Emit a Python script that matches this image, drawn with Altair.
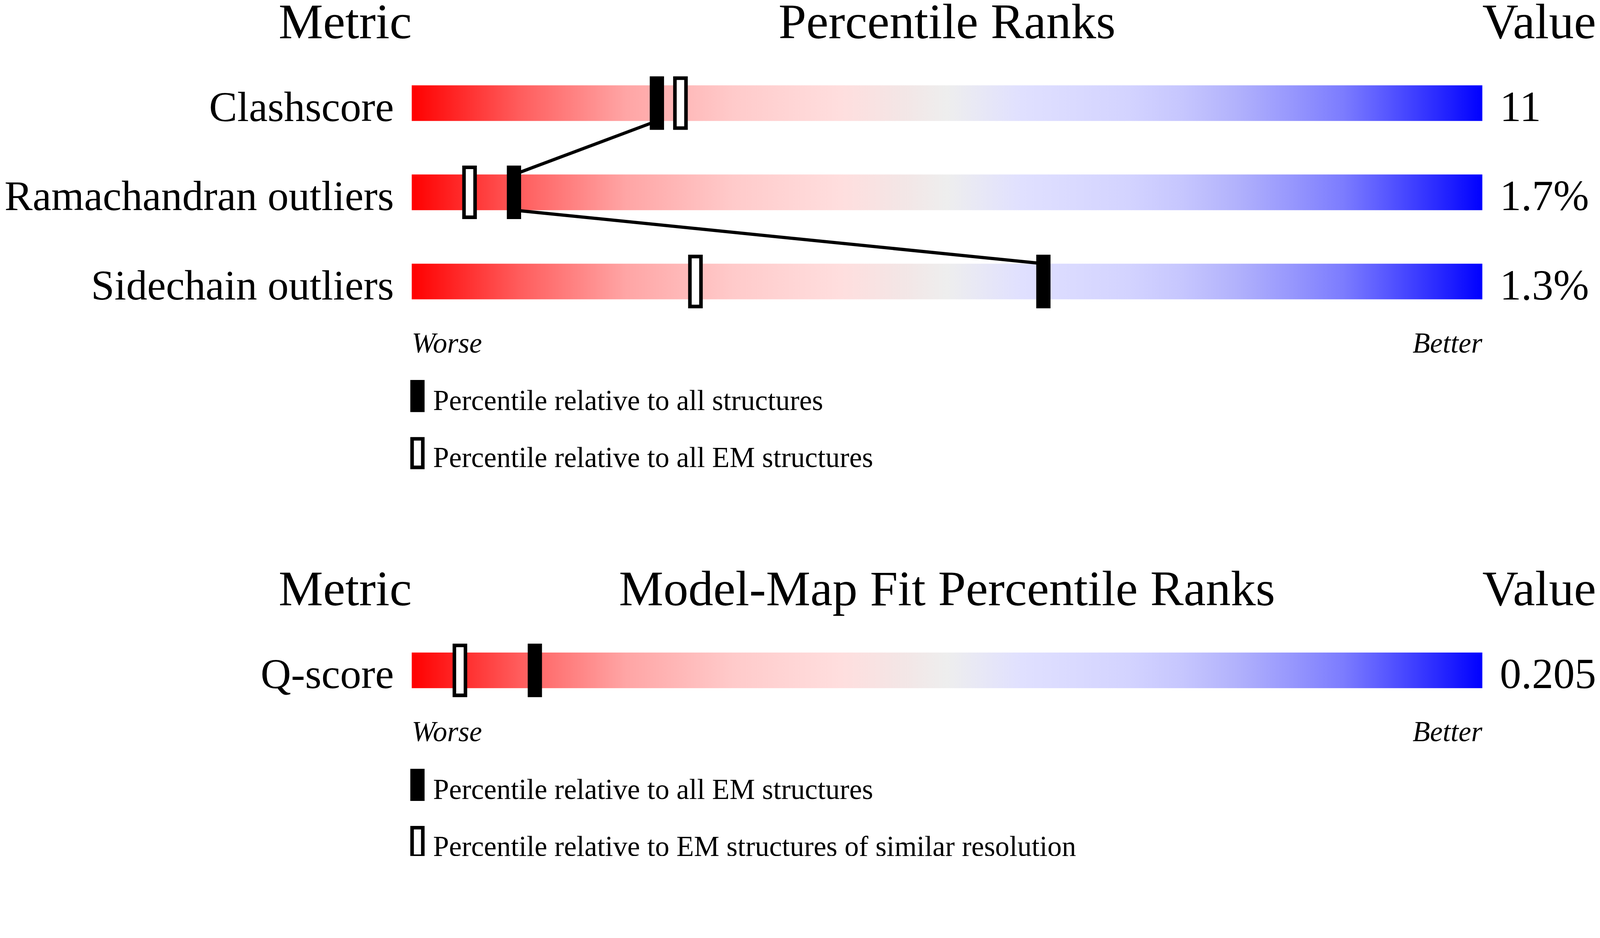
import altair as alt
import pandas as pd

FONT = "Liberation Serif"

# ---------------- data ----------------
section_titles = ["Percentile Ranks", "Model-Map Fit Percentile Ranks"]

top_metrics = ["Clashscore", "Ramachandran outliers", "Sidechain outliers"]
top_values = ["11", "1.7%", "1.3%"]
top_pct_all = [22.9, 9.55, 59.0]        # filled marker: relative to all structures
top_pct_em = [25.1, 5.4, 26.5]          # open marker: relative to all EM structures
top_legend = ["Percentile relative to all structures",
              "Percentile relative to all EM structures"]

bottom_metrics = ["Q-score"]
bottom_values = ["0.205"]
bottom_pct_all = [11.5]                 # filled marker: relative to all EM structures
bottom_pct_em = [4.5]                   # open marker: EM structures of similar resolution
bottom_legend = ["Percentile relative to all EM structures",
                 "Percentile relative to EM structures of similar resolution"]

worse_better = ["Worse", "Better"]
header_side = ["Metric", "Value"]

gradient_stops = [
    (0.00, "#ff0000"), (0.10, "#ff5c5c"), (0.20, "#ffa5a5"), (0.30, "#ffcaca"),
    (0.40, "#ffdede"), (0.46, "#f3e6e6"), (0.50, "#eeeeee"), (0.57, "#e0e0ff"),
    (0.67, "#d3d3ff"), (0.72, "#c6c6fe"), (0.77, "#b2b2fc"), (0.82, "#9898fd"),
    (0.87, "#7c7cfe"), (0.91, "#5858ff"), (0.96, "#2828ff"), (1.00, "#0000ff"),
]

# ---------------- layout (scale units) ----------------
PX_X = 1 / 30.0      # percentile units per pixel
PX_Y = 1 / 250.0     # row units per pixel
BAR_H = 100 * PX_Y
MK_H = 150 * PX_Y
OPEN_H = 140 * PX_Y
FILL_HW = 20 * PX_X
OPEN_HW = 15.5 * PX_X
TEXT_DROP = 50 * PX_Y
TITLE_OFF = -0.728
WB_OFF = 0.796
SECTION_GAP = 3.36

xs = alt.Scale(domain=[0, 100], range=[1145, 4145], nice=False, zero=False)
ys = alt.Scale(domain=[0, 1], range=[177, 427], nice=False, zero=False)

sections = [
    (section_titles[0], top_metrics, top_values, top_pct_all, top_pct_em, top_legend),
    (section_titles[1], bottom_metrics, bottom_values, bottom_pct_all, bottom_pct_em, bottom_legend),
]

rows, filled, opened, lines, titles, sides, wb, leg_f, leg_o, leg_t = ([] for _ in range(10))
start = 0.0
for s, (title, metrics, values, p_all, p_em, legend) in enumerate(sections):
    last = start + len(metrics) - 1
    for i, (m, v) in enumerate(zip(metrics, values)):
        slot = start + i
        rows.append(dict(metric=m, value=v, lo=0, hi=100, y1=slot - BAR_H / 2,
                         y2=slot + BAR_H / 2, yt=slot + TEXT_DROP))
        filled.append(dict(x1=p_all[i] - FILL_HW, x2=p_all[i] + FILL_HW,
                           y1=slot - MK_H / 2, y2=slot + MK_H / 2))
        opened.append(dict(x1=p_em[i] - OPEN_HW, x2=p_em[i] + OPEN_HW,
                           y1=slot - OPEN_H / 2, y2=slot + OPEN_H / 2))
        if i + 1 < len(metrics):
            seg = f"{s}-{i}"
            lines.append(dict(seg=seg, ord=0, x=p_all[i], y=slot + BAR_H / 2))
            lines.append(dict(seg=seg, ord=1, x=p_all[i + 1], y=slot + 1 - BAR_H / 2))
    ty = start + TITLE_OFF
    titles.append(dict(text=title, x=50, y=ty))
    sides.append(dict(text=header_side[0], x=0, y=ty, side="left"))
    sides.append(dict(text=header_side[1], x=100, y=ty, side="right"))
    wb.append(dict(text=worse_better[0], x=0, y=last + WB_OFF, side="left"))
    wb.append(dict(text=worse_better[1], x=100, y=last + WB_OFF, side="right"))
    leg_f.append(dict(x1=-4 * PX_X, x2=36 * PX_X, y1=last + 1.104, y2=last + 1.464))
    leg_o.append(dict(x1=1 * PX_X, x2=31 * PX_X, y1=last + 1.764, y2=last + 2.084))
    leg_t.append(dict(text=legend[0], x=60 * PX_X, y=last + 1.442))
    leg_t.append(dict(text=legend[1], x=60 * PX_X, y=last + 2.08))
    start = last + 1 + SECTION_GAP

rows_df = pd.DataFrame(rows)
filled_df = pd.DataFrame(filled + leg_f)
open_df = pd.DataFrame(opened + leg_o)
lines_df = pd.DataFrame(lines)
titles_df = pd.DataFrame(titles)
sides_df = pd.DataFrame(sides)
wb_df = pd.DataFrame(wb)
leg_t_df = pd.DataFrame(leg_t)

gradient = {
    "gradient": "linear",
    "stops": [{"offset": o, "color": c} for o, c in gradient_stops],
    "x1": 0, "x2": 1, "y1": 0, "y2": 0,
}

def X(f):
    return alt.X(f, scale=xs, axis=None)

def Y(f):
    return alt.Y(f, scale=ys, axis=None)

bars = alt.Chart(rows_df).mark_rect(fill=gradient).encode(
    x=X("lo:Q"), x2="hi:Q", y=Y("y1:Q"), y2="y2:Q")

conn = alt.Chart(lines_df).mark_line(color="black", strokeWidth=9).encode(
    x=X("x:Q"), y=Y("y:Q"), detail="seg:N", order="ord:Q")

mk_f = alt.Chart(filled_df).mark_rect(fill="black").encode(
    x=X("x1:Q"), x2="x2:Q", y=Y("y1:Q"), y2="y2:Q")

mk_o = alt.Chart(open_df).mark_rect(fill="white", stroke="black", strokeWidth=10).encode(
    x=X("x1:Q"), x2="x2:Q", y=Y("y1:Q"), y2="y2:Q")

labels = alt.Chart(rows_df).mark_text(
    font=FONT, fontSize=118, align="right", baseline="alphabetic", dx=-50, color="black"
).encode(x=alt.X("lo:Q", scale=xs, axis=None), y=Y("yt:Q"), text="metric:N")

vals = alt.Chart(rows_df).mark_text(
    font=FONT, fontSize=120, align="left", baseline="alphabetic", dx=49, color="black"
).encode(x=alt.X("hi:Q", scale=xs, axis=None), y=Y("yt:Q"), text="value:N")

title_t = alt.Chart(titles_df).mark_text(
    font=FONT, fontSize=140, align="center", baseline="alphabetic", color="black"
).encode(x=X("x:Q"), y=Y("y:Q"), text="text:N")

side_l = alt.Chart(sides_df).transform_filter("datum.side == 'left'").mark_text(
    font=FONT, fontSize=140, align="right", baseline="alphabetic", color="black"
).encode(x=X("x:Q"), y=Y("y:Q"), text="text:N")

side_r = alt.Chart(sides_df).transform_filter("datum.side == 'right'").mark_text(
    font=FONT, fontSize=140, align="left", baseline="alphabetic", color="black"
).encode(x=X("x:Q"), y=Y("y:Q"), text="text:N")

wb_l = alt.Chart(wb_df).transform_filter("datum.side == 'left'").mark_text(
    font=FONT, fontSize=80, fontStyle="italic", align="left", baseline="alphabetic", color="black"
).encode(x=X("x:Q"), y=Y("y:Q"), text="text:N")

wb_r = alt.Chart(wb_df).transform_filter("datum.side == 'right'").mark_text(
    font=FONT, fontSize=80, fontStyle="italic", align="right", baseline="alphabetic", color="black"
).encode(x=X("x:Q"), y=Y("y:Q"), text="text:N")

leg_text = alt.Chart(leg_t_df).mark_text(
    font=FONT, fontSize=80, align="left", baseline="alphabetic", color="black"
).encode(x=X("x:Q"), y=Y("y:Q"), text="text:N")

chart = alt.layer(
    bars, conn, mk_f, mk_o, labels, vals, title_t, side_l, side_r, wb_l, wb_r, leg_text
).properties(
    width=4466, height=2184,
    autosize=alt.AutoSizeParams(type="none"),
    padding=0,
    background="white",
).configure_view(stroke=None)

chart.save("out.html", embed_options={"renderer": "svg", "actions": False})
